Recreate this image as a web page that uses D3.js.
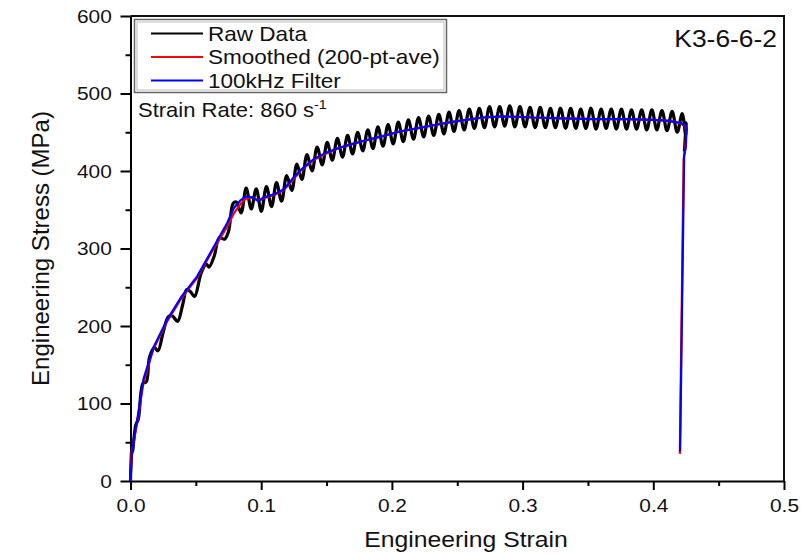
<!DOCTYPE html>
<html>
<head>
<meta charset="utf-8">
<script src="https://cdn.jsdelivr.net/npm/d3@7"></script>
<style>
  body { margin: 0; background: #fff; }
  text { font-family: "Liberation Sans", Arial, sans-serif; fill: #111; }
</style>
</head>
<body>
<div id="chart"></div>
<script>
//values, [strain, stress MPa]
const rawData = [
  [0,0],[0.0009,48],[0.0015,38],[0.004,72],[0.006,80],[0.0095,126],[0.0121,128],[0.0146,160],
  [0.0184,172],[0.021,168],[0.025,192],[0.029,212],[0.032,213],[0.036,206],[0.040,228],[0.043,247],
  [0.046,244],[0.049,238],[0.054,268],[0.058,280],[0.060,276],[0.064,290],[0.068,314],[0.072,312],
  [0.075,322],[0.0785,358],[0.0810,360],[0.0846,346],
  [0.0885,378],[0.0924,351],[0.0962,377],[0.1001,348],[0.1040,380],[0.1079,354],[0.1117,385],[0.1156,361],
  [0.1195,394],[0.1234,375],[0.1273,409],[0.1311,389],[0.1350,421],[0.1389,400],[0.1428,431],[0.1467,408],
  [0.1505,437],[0.1544,414],[0.1583,442],[0.1622,418],[0.1661,446],[0.1699,422],[0.1738,450],[0.1777,426],
  [0.1816,453],[0.1855,429],[0.1893,457],[0.1932,432],[0.1971,460],[0.2010,435],[0.2049,463],[0.2087,438],
  [0.2126,466],[0.2165,441],[0.2204,469],[0.2243,444],[0.2281,471],[0.2320,446],[0.2359,473],[0.2398,448],
  [0.2437,476],[0.2475,451],[0.2514,478],[0.2553,453],[0.2592,480],[0.2631,455],[0.2669,481],[0.2708,456],
  [0.2747,483],[0.2786,457],[0.2825,483],[0.2863,458],[0.2902,484],[0.2941,457],[0.2980,483],[0.3019,457],
  [0.3057,482],[0.3096,456],[0.3135,482],[0.3174,456],[0.3213,481],[0.3251,456],[0.3290,481],[0.3329,455],
  [0.3368,481],[0.3407,455],[0.3445,480],[0.3484,455],[0.3523,481],[0.3562,454],[0.3601,480],[0.3639,455],
  [0.3678,480],[0.3717,454],[0.3756,480],[0.3795,454],[0.3833,479],[0.3872,454],[0.3911,479],[0.3950,453],
  [0.3989,479],[0.4027,453],[0.4066,478],[0.4105,452],[0.4144,477],[0.4183,450],[0.4221,474],[0.4248,446],
  [0.4252,462],[0.4238,425]
];

const smoothedData = [
  [0,0],[0.001,40],[0.002,46],[0.006,84],[0.010,128],[0.0175,170],[0.028,206],[0.039,236],[0.051,262],
  [0.063,298],[0.074,328],[0.079,345],[0.084,357],[0.088,364],[0.093,366],[0.098,362],[0.102,365],
  [0.110,369],[0.117,375],[0.125,390],[0.130,400],[0.140,414],[0.150,423],[0.160,430],[0.170,435],
  [0.181,440],[0.193,445],[0.206,451],[0.219,455],[0.232,459],[0.245,463],[0.257,466],[0.270,469],
  [0.283,470],[0.296,470],[0.308,469],[0.330,468],[0.355,467],[0.380,467],[0.400,466],[0.410,465],
  [0.417,463.5],[0.421,461],[0.4245,458],[0.4252,450],[0.4245,430],[0.4232,415],[0.4203,35]
];

const filteredData = [
  [0,0],[0.001,30],[0.002,48],[0.006,88],[0.010,132],[0.0175,172],[0.028,208],[0.039,238],[0.051,264],
  [0.063,300],[0.074,333],[0.079,352],[0.084,362],[0.088,367],[0.093,366],[0.098,361],[0.102,366],
  [0.110,370],[0.117,376],[0.125,392],[0.130,401],[0.140,415],[0.150,424],[0.160,430],[0.170,435],
  [0.181,440],[0.193,445],[0.206,451],[0.219,455],[0.232,459],[0.245,463],[0.257,466],[0.270,469],
  [0.283,470.5],[0.296,470],[0.308,469],[0.330,468],[0.355,467],[0.380,467],[0.400,466],[0.410,465],
  [0.417,463],[0.421,462],[0.4245,459],[0.4254,455],[0.4249,431],[0.4236,420],[0.4205,38]
];

const xTicks = [0, 0.1, 0.2, 0.3, 0.4, 0.5];
const xMinorTicks = [0.05, 0.15, 0.25, 0.35, 0.45];
const yTicks = [0, 100, 200, 300, 400, 500, 600];
const yMinorTicks = [50, 150, 250, 350, 450, 550];

const legendLabels = ["Raw Data", "Smoothed (200-pt-ave)", "100kHz Filter"];
const legendColors = ["#000000", "#ff0000", "#0000ff"];
const specimen = "K3-6-6-2";

const width = 808;
const height = 554;
const margin = { top: 16, right: 24, bottom: 73, left: 130.5 };
const stretch = "scale(1.1,1)";

const svg = d3.select("#chart")
  .append("svg")
  .attr("width", width)
  .attr("height", height);

const xScale = d3.scaleLinear()
  .domain([0, 0.5])
  .range([margin.left, width - margin.right]);

const yScale = d3.scaleLinear()
  .domain([0, 600])
  .range([height - margin.bottom, margin.top]);

//frame top and right
svg.append("path")
  .attr("d", "M" + xScale(0) + "," + yScale(600) + "H" + xScale(0.5) + "V" + yScale(0))
  .attr("fill", "none")
  .attr("stroke", "#111")
  .attr("stroke-width", 2);

//x axis, minor first then major
svg.append("g")
  .attr("transform", "translate(0," + yScale(0) + ")")
  .call(d3.axisBottom(xScale).tickValues(xMinorTicks).tickSize(5).tickFormat(""))
  .call(g => g.select(".domain").remove())
  .selectAll("line").attr("stroke-width", 2);

const xAxis = svg.append("g")
  .attr("transform", "translate(0," + yScale(0) + ")")
  .call(d3.axisBottom(xScale).tickValues(xTicks).tickSize(9).tickSizeOuter(0).tickPadding(9).tickFormat(d3.format(".1f")));

xAxis.select(".domain").attr("stroke-width", 2);
xAxis.selectAll("line").attr("stroke-width", 2);
xAxis.selectAll("text")
  .style("font-size", "19px")
  .attr("transform", stretch);

//y axis
svg.append("g")
  .attr("transform", "translate(" + xScale(0) + ",0)")
  .call(d3.axisLeft(yScale).tickValues(yMinorTicks).tickSize(5).tickFormat(""))
  .call(g => g.select(".domain").remove())
  .selectAll("line").attr("stroke-width", 2);

const yAxis = svg.append("g")
  .attr("transform", "translate(" + xScale(0) + ",0)")
  .call(d3.axisLeft(yScale).tickValues(yTicks).tickSize(10).tickSizeOuter(0).tickPadding(7));

yAxis.select(".domain").attr("stroke-width", 2);
yAxis.selectAll("line").attr("stroke-width", 2);
yAxis.selectAll("text")
  .style("font-size", "19px")
  .attr("transform", stretch);

//axis titles
svg.append("text")
  .attr("transform", "translate(466,547) " + stretch)
  .attr("text-anchor", "middle")
  .style("font-size", "22.5px")
  .text("Engineering Strain");

svg.append("text")
  .attr("transform", "translate(49," + ((yScale(0) + yScale(600)) / 2) + ") rotate(-90)")
  .attr("text-anchor", "middle")
  .style("font-size", "24px")
  .text("Engineering Stress (MPa)");

//curves
const line = d3.line()
  .x(function(d) {return xScale(d[0])})
  .y(function(d) {return yScale(d[1])});

svg.append("path")
  .datum(rawData)
  .attr("fill", "none")
  .attr("stroke", legendColors[0])
  .attr("stroke-width", 3.2)
  .attr("stroke-linejoin", "round")
  .attr("d", line.curve(d3.curveCatmullRom.alpha(0.5)));

svg.append("path")
  .datum(smoothedData)
  .attr("fill", "none")
  .attr("stroke", legendColors[1])
  .attr("stroke-width", 2.2)
  .attr("d", line.curve(d3.curveLinear));

svg.append("path")
  .datum(filteredData)
  .attr("fill", "none")
  .attr("stroke", legendColors[2])
  .attr("stroke-width", 2.2)
  .attr("d", line.curve(d3.curveLinear));

//legend box with double border
const legend = svg.append("g");

legend.append("rect")
  .attr("x", 134.5)
  .attr("y", 19.5)
  .attr("width", 312)
  .attr("height", 73)
  .attr("fill", "#fff")
  .attr("stroke", "#666")
  .attr("stroke-width", 1.5);

legend.append("rect")
  .attr("x", 137)
  .attr("y", 22)
  .attr("width", 307)
  .attr("height", 68)
  .attr("fill", "none")
  .attr("stroke", "#bbb")
  .attr("stroke-width", 1);

const rows = legend.selectAll(".row")
  .data(legendLabels)
  .enter()
  .append("g")
  .attr("transform", function(d, i) {return "translate(0," + (33.5 + i * 23.5) + ")"});

rows.append("line")
  .attr("x1", 151)
  .attr("x2", 203)
  .attr("stroke", function(d, i) {return legendColors[i]})
  .attr("stroke-width", 2);

rows.append("text")
  .attr("transform", "translate(208,7) " + stretch)
  .style("font-size", "20.5px")
  .text(function(d) {return d});

//strain rate note
const note = svg.append("text")
  .attr("transform", "translate(138,117) " + stretch)
  .style("font-size", "20px");
note.append("tspan").text("Strain Rate: 860 s");
note.append("tspan")
  .attr("dy", -8)
  .style("font-size", "13px")
  .text("-1");

//specimen label
svg.append("text")
  .attr("transform", "translate(777,47) " + stretch)
  .attr("text-anchor", "end")
  .style("font-size", "24px")
  .text(specimen);
</script>
</body>
</html>
